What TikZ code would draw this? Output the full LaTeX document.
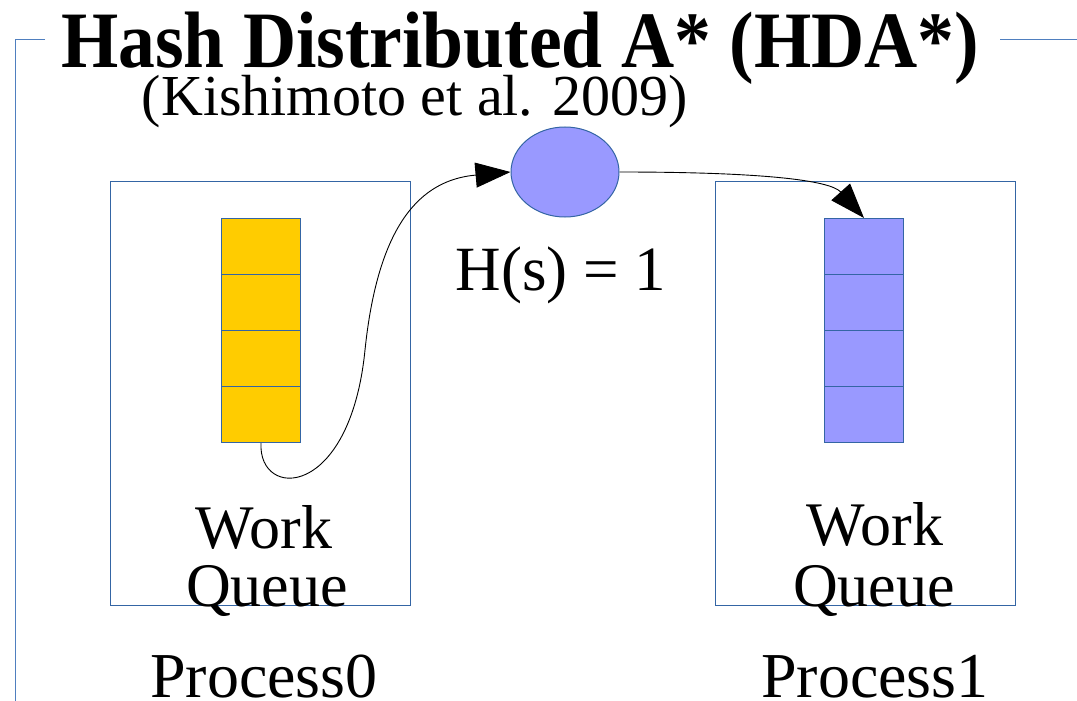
\documentclass[tikz,border=0pt]{standalone}
\usepackage{fontspec}
\setmainfont{Liberation Serif}
\usetikzlibrary{arrows.meta,shapes.geometric}
\definecolor{qyellow}{HTML}{FFCC00}
\definecolor{qpurple}{HTML}{9999FF}
\definecolor{qedge}{HTML}{3465A4}
\definecolor{frameblue}{HTML}{4F7FBF}
\tikzset{
  procbox/.style={draw=qedge, line width=0.9pt},
  cell/.style={draw=qedge, line width=1pt, minimum width=79pt, minimum height=56pt, inner sep=0pt, anchor=north west},
  bigtxt/.style={font=\fontsize{62}{62}\selectfont, anchor=base, inner sep=0pt, text depth=0pt},
  proctxt/.style={font=\fontsize{64}{64}\selectfont, anchor=base, inner sep=0pt, text depth=0pt},
  conn/.style={draw=black, line width=0.9pt, -{Triangle[length=35pt,width=25pt]}},
}
\begin{document}
\begin{tikzpicture}[x=1pt,y=-1pt]
\useasboundingbox (0,0) rectangle (1077,701);
% frame
\draw[frameblue, line width=1pt] (45,40) -- (15,40) -- (15,701);
\draw[frameblue, line width=1pt] (1000,40) -- (1077,40);
% title
\node[font=\bfseries\fontsize{80}{80}\selectfont, anchor=base, inner sep=0pt, text depth=0pt] (title) at (520,68) {\scalebox{0.92}[1]{Hash Distributed A* (HDA*)}};
\node[font=\fontsize{58}{58}\selectfont, anchor=base, inner sep=0pt, text depth=0pt] (sub) at (415,116) {(Kishimoto et al. 2009)};
% process boxes
\draw[procbox] (110,181) rectangle (410,605);
\draw[procbox] (715,181) rectangle (1015,605);
% queues
\node[cell, fill=qyellow] (y1) at (221,218) {};
\node[cell, fill=qyellow] (y2) at (221,274) {};
\node[cell, fill=qyellow] (y3) at (221,330) {};
\node[cell, fill=qyellow] (y4) at (221,386) {};
\node[cell, fill=qpurple] (p1) at (824,218) {};
\node[cell, fill=qpurple] (p2) at (824,274) {};
\node[cell, fill=qpurple] (p3) at (824,330) {};
\node[cell, fill=qpurple] (p4) at (824,386) {};
% state ellipse
\node[ellipse, draw=qedge, line width=1pt, fill=qpurple, minimum width=108pt, minimum height=90pt, inner sep=0pt] (s) at (565,172) {};
\node[font=\fontsize{63}{63}\selectfont, anchor=base, inner sep=0pt, text depth=0pt] (hs) at (561,290) {H(s) = 1};
% labels
\node[bigtxt] (w0) at (264,548) {Work};
\node[bigtxt] (q0) at (267,606) {Queue};
\node[bigtxt] (w1) at (875,545) {Work};
\node[bigtxt] (q1) at (874,606) {Queue};
\node[proctxt] (pr0) at (264,697) {Process0};
\node[proctxt] (pr1) at (875,697) {Process1};
% connectors
\draw[conn] (y4.south) .. controls (258,500) and (350,500) .. (365,350) .. controls (378,225) and (420,180) .. (s.west);
\draw[conn] (s.east) .. controls (760,172) and (830,180) .. (p1.north);
\end{tikzpicture}
\end{document}
